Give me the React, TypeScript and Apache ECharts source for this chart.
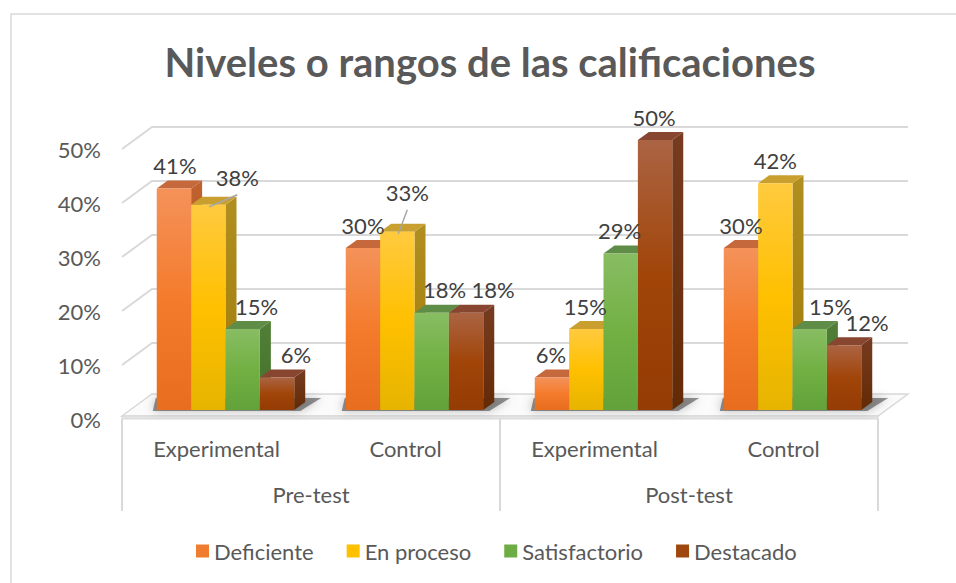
import React, { useEffect, useRef } from "react";
import * as echarts from "echarts";

// ---- data ----
const categories = ["Experimental", "Control", "Experimental", "Control"];
const groups = ["Pre-test", "Post-test"];
const seriesNames = ["Deficiente", "En proceso", "Satisfactorio", "Destacado"];
const deficiente = [0.41, 0.3, 0.06, 0.3];
const enProceso = [0.38, 0.33, 0.15, 0.42];
const satisfactorio = [0.15, 0.18, 0.29, 0.15];
const destacado = [0.06, 0.18, 0.5, 0.12];
const yTicks = [0, 0.1, 0.2, 0.3, 0.4, 0.5];
const titleText = "Niveles o rangos de las calificaciones";

// ---- label placement tweaks (dx, dy, leader) per series / category ----
const labelNudges = [
  [[1, 0, 0], [0, 0, 0], [-1, 0, 0], [0, 0, 0]],
  [[29, -4, 1], [10, -16, 1], [-1, 0, 0], [0, 0, 0]],
  [[14, 0, 0], [13, 0, 0], [-1, 0, 0], [21, 0, 0]],
  [[19, 0, 0], [27, 0, 0], [-1, 0, 0], [23, 0, 0]],
];

// ---- styles ----
const FONT = "Lato";
const TEXT_GREY = "#595959";
const LABEL_GREY = "#404040";
const GRID_GREY = "#D9D9D9";
const FRONT = [
  ["#F4925A", "#F47B2C", "#E86D1F"],
  ["#FFCA3F", "#FFC000", "#E6B400"],
  ["#88BD63", "#72B043", "#62A23A"],
  ["#AB6443", "#A14509", "#943C04"],
];
const TOPC = ["#C5693C", "#C9A030", "#5F8C47", "#884631"];
const SIDE = [
  ["#C0622E", "#A9501C"],
  ["#B08F20", "#A07A08"],
  ["#527F37", "#44722A"],
  ["#773C20", "#632A06"],
];
const LEGEND_C = ["#F07C30", "#FFC000", "#6EAD44", "#9E480E"];

// 3D geometry
const DEPTH_X = 30;
const DEPTH_Y = 22;
const BAR_OFF_X = 9;
const BAR_OFF_Y = 9;
const BAR_DX = 11;
const BAR_DY = 8;
const GROUP_FRAC = 0.7275;

function barGeom(api: any, cat: number, v: number, s: number) {
  const base = api.coord([cat, 0]);
  const top = api.coord([cat, v]);
  const bandW = api.size([1, 0])[0];
  const groupW = bandW * GROUP_FRAC;
  const barW = groupW / 4;
  const x0 = base[0] - groupW / 2 + s * barW + BAR_OFF_X;
  const x1 = x0 + barW;
  const yb = base[1] - BAR_OFF_Y;
  const yt = top[1] - BAR_OFF_Y;
  return { x0, x1, yb, yt, barW, groupW };
}

function vgrad(stops: string[]) {
  return new echarts.graphic.LinearGradient(
    0,
    0,
    0,
    1,
    stops.map((c, i) => ({ offset: i / (stops.length - 1), color: c }))
  );
}

function makeBarSeries(s: number, values: number[]) {
  return {
    type: "custom",
    name: seriesNames[s],
    xAxisIndex: 0,
    yAxisIndex: 0,
    itemStyle: { color: LEGEND_C[s] },
    encode: { x: 0, y: 1 },
    data: values.map((v, i) => [i, v]),
    renderItem: (params: any, api: any) => {
      const cat = api.value(0);
      const v = api.value(1);
      const g = barGeom(api, cat, v, s);
      const h = g.yb - g.yt;
      return {
        type: "group",
        children: [
          {
            type: "polygon",
            shape: {
              points: [
                [g.x1, g.yt],
                [g.x1 + BAR_DX, g.yt - BAR_DY],
                [g.x1 + BAR_DX, g.yb - BAR_DY],
                [g.x1, g.yb],
              ],
            },
            style: { fill: vgrad(SIDE[s]) },
          },
          {
            type: "polygon",
            shape: {
              points: [
                [g.x0, g.yt],
                [g.x1, g.yt],
                [g.x1 + BAR_DX, g.yt - BAR_DY],
                [g.x0 + BAR_DX, g.yt - BAR_DY],
              ],
            },
            style: { fill: TOPC[s] },
          },
          {
            type: "rect",
            shape: { x: g.x0, y: g.yt, width: g.barW, height: h },
            style: { fill: vgrad(FRONT[s]) },
          },
        ],
      };
    },
  };
}

const allValues = [deficiente, enProceso, satisfactorio, destacado];

export default function App() {
  const ref = useRef<HTMLDivElement>(null);

  useEffect(() => {
    if (!ref.current) return;
    const chart = echarts.init(ref.current, undefined, { renderer: "svg" });

    const gridSeries = {
      type: "custom",
      name: "grid",
      xAxisIndex: 0,
      yAxisIndex: 0,
      encode: { x: 0, y: 1 },
      data: yTicks.map((t) => [0, t]),
      renderItem: (params: any, api: any) => {
        const cs = params.coordSys;
        const t = api.value(1);
        const y = api.coord([0, t])[1];
        if (t === 0) {
          return {
            type: "group",
            children: [
              {
                type: "polygon",
                shape: {
                  points: [
                    [cs.x, y - 3],
                    [cs.x + cs.width, y - 3],
                    [cs.x + cs.width + DEPTH_X, y - 3 - DEPTH_Y],
                    [cs.x + DEPTH_X, y - 3 - DEPTH_Y],
                  ],
                },
                style: { fill: "#FBFBFB", stroke: GRID_GREY, lineWidth: 1.5 },
              },
              {
                type: "rect",
                shape: { x: cs.x, y: y - 3, width: cs.width, height: 3 },
                style: { fill: "#E4E4E4", stroke: GRID_GREY, lineWidth: 1 },
              },
            ],
          };
        }
        return {
          type: "polyline",
          shape: {
            points: [
              [cs.x, y],
              [cs.x + DEPTH_X, y - DEPTH_Y],
              [cs.x + cs.width + DEPTH_X, y - DEPTH_Y],
            ],
          },
          style: { stroke: GRID_GREY, lineWidth: 2, fill: "none" },
        };
      },
    };

    const shadowSeries = {
      type: "custom",
      name: "shadow",
      xAxisIndex: 0,
      yAxisIndex: 0,
      encode: { x: 0, y: 1 },
      data: categories.map((c, i) => [i, 0]),
      renderItem: (params: any, api: any) => {
        const cat = api.value(0);
        const g0 = barGeom(api, cat, 0, 0);
        const left = g0.x0;
        const right = g0.x0 + g0.groupW;
        const yb = g0.yb;
        return {
          type: "polygon",
          shape: {
            points: [
              [left - 4, yb + 1],
              [right + 6, yb + 1],
              [right + BAR_DX + 16, yb - BAR_DY - 4],
              [left + BAR_DX - 12, yb - BAR_DY - 4],
            ],
          },
          style: {
            fill: "rgba(40,40,40,0.5)",
            shadowBlur: 10,
            shadowColor: "rgba(0,0,0,0.5)",
          },
        };
      },
    };

    const labelData: number[][] = [];
    allValues.forEach((vals, s) => {
      vals.forEach((v, c) => {
        const n = labelNudges[s][c];
        labelData.push([c, v, s, n[0], n[1], n[2]]);
      });
    });

    const labelSeries = {
      type: "custom",
      name: "labels",
      xAxisIndex: 0,
      yAxisIndex: 0,
      encode: { x: 0, y: 1 },
      z: 5,
      data: labelData,
      renderItem: (params: any, api: any) => {
        const cat = api.value(0);
        const v = api.value(1);
        const s = api.value(2);
        const dx = api.value(3);
        const dy = api.value(4);
        const leader = api.value(5);
        const g = barGeom(api, cat, v, s);
        const cx = (g.x0 + g.x1) / 2;
        const lx = cx + dx;
        const ly = g.yt - 23 + dy;
        const children: any[] = [];
        if (leader) {
          children.push({
            type: "line",
            shape: { x1: cx + 1, y1: g.yt + 2, x2: lx, y2: ly + 17 },
            style: { stroke: "#A6A6A6", lineWidth: 1.5 },
          });
        }
        children.push({
          type: "text",
          style: {
            text: Math.round(v * 100) + "%",
            x: lx,
            y: ly,
            align: "center",
            verticalAlign: "middle",
            textAlign: "center",
            textVerticalAlign: "middle",
            fill: LABEL_GREY,
            fontSize: 22,
            fontFamily: FONT,
          },
        });
        return { type: "group", children };
      },
    };

    const option: any = {
      animation: false,
      color: LEGEND_C,
      textStyle: { fontFamily: FONT },
      title: {
        text: titleText,
        left: 485,
        top: 37,
        textAlign: "center",
        textStyle: {
          fontSize: 40,
          fontWeight: "bold",
          color: TEXT_GREY,
          fontFamily: FONT,
        },
      },
      grid: { left: 122, right: 78, top: 149, bottom: 164, containLabel: false },
      xAxis: [
        {
          type: "category",
          data: categories,
          position: "bottom",
          axisLine: { show: false },
          axisTick: { show: false },
          axisLabel: { margin: 18, fontSize: 22, color: TEXT_GREY, fontFamily: FONT },
          splitLine: { show: false },
        },
        {
          type: "category",
          data: groups,
          position: "bottom",
          axisLine: { show: false },
          axisTick: {
            show: true,
            length: 92,
            lineStyle: { color: GRID_GREY, width: 2 },
          },
          axisLabel: { margin: 64, fontSize: 22, color: TEXT_GREY, fontFamily: FONT },
          splitLine: { show: false },
        },
      ],
      yAxis: {
        type: "value",
        min: 0,
        max: 0.5,
        interval: 0.1,
        axisLine: { show: false },
        axisTick: { show: false },
        splitLine: { show: false },
        axisLabel: {
          margin: 21,
          fontSize: 22,
          color: TEXT_GREY,
          fontFamily: FONT,
          formatter: (v: number) => Math.round(v * 100) + "%",
        },
      },
      legend: {
        data: seriesNames,
        left: 191,
        top: 535,
        icon: "rect",
        itemWidth: 13,
        itemHeight: 13,
        itemGap: 33,
        textStyle: { fontSize: 22, color: TEXT_GREY, fontFamily: FONT },
      },
      graphic: [
        {
          type: "rect",
          shape: { x: 11, y: 14, width: 960, height: 600 },
          style: { fill: "none", stroke: GRID_GREY, lineWidth: 1.5 },
          silent: true,
          z: -10,
        },
      ],
      series: [
        gridSeries,
        shadowSeries,
        ...allValues.map((vals, s) => makeBarSeries(s, vals)),
        labelSeries,
      ],
    };

    chart.setOption(option);
    return () => chart.dispose();
  }, []);

  return (
    <div
      ref={ref}
      style={{ position: "fixed", left: 0, top: 0, width: 956, height: 583, background: "#fff" }}
    />
  );
}
